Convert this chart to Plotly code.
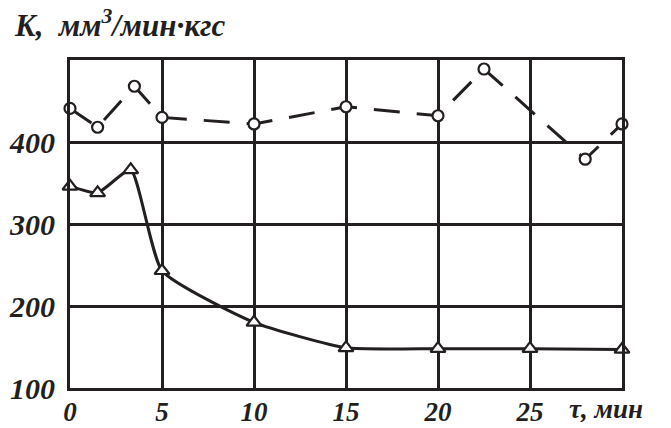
import plotly.graph_objects as go

# Dashed series (circles)
t_circ = [0, 1.5, 3.5, 5, 10, 15, 20, 22.5, 28, 30]
k_circ = [441, 418, 468, 430, 422, 443, 432, 489, 379, 422]

# Solid series (triangles)
t_tri = [0, 1.5, 3.3, 5, 10, 15, 20, 25, 30]
k_tri = [346, 338, 366, 243, 180, 149, 148, 148, 147]

x_ticks = [0, 5, 10, 15, 20, 25]
y_ticks = [100, 200, 300, 400]

FONT = "Liberation Serif"
INK = "#231f20"

fig = go.Figure()
fig.add_trace(go.Scatter(
    x=t_circ, y=k_circ, mode="lines+markers",
    line=dict(color=INK, width=3, dash="26px,17px"),
    marker=dict(symbol="circle", size=11, color="white",
                line=dict(color=INK, width=2.2)),
    showlegend=False, cliponaxis=False))
fig.add_trace(go.Scatter(
    x=t_tri, y=k_tri, mode="lines+markers",
    line=dict(color=INK, width=3, shape="spline", smoothing=0.5),
    marker=dict(symbol="triangle-up", size=13, color="white",
                line=dict(color=INK, width=2.2)),
    showlegend=False, cliponaxis=False))

tf = dict(family=FONT, size=27, color=INK, style="italic", weight="bold")
fig.update_xaxes(range=[0, 30], tickvals=x_ticks, ticktext=[str(v) for v in x_ticks],
                 showgrid=True, gridcolor=INK, gridwidth=3,
                 showline=True, linecolor=INK, linewidth=3, mirror=True,
                 zeroline=False, ticks="", ticklen=0, automargin=False,
                 ticklabelstandoff=-2, tickfont=tf)
fig.update_yaxes(range=[100, 500], tickvals=y_ticks, ticktext=[str(v) for v in y_ticks],
                 showgrid=True, gridcolor=INK, gridwidth=3,
                 showline=True, linecolor=INK, linewidth=3, mirror=True,
                 zeroline=False, ticks="", ticklen=0, automargin=False,
                 ticklabelstandoff=6, tickfont=dict(tf, size=30))

fig.add_annotation(xref="paper", yref="paper", x=-0.105, y=1.045, xanchor="left", yanchor="bottom",
                   text="<b><i>K,  мм<sup>3</sup>/мин·кгс</i></b>", showarrow=False,
                   font=dict(family=FONT, size=31, color=INK))
fig.add_annotation(xref="paper", yref="paper", x=0.90, y=-0.012, xanchor="left", yanchor="top",
                   text="<b><i>τ, мин</i></b>", showarrow=False,
                   font=dict(family=FONT, size=27, color=INK))

fig.update_layout(width=671, height=428, margin=dict(l=70, r=49, t=60, b=40),
                  plot_bgcolor="white", paper_bgcolor="white")
fig.write_html("out.html", config={"displayModeBar": False},
               post_script="document.body.style.margin='0';")
